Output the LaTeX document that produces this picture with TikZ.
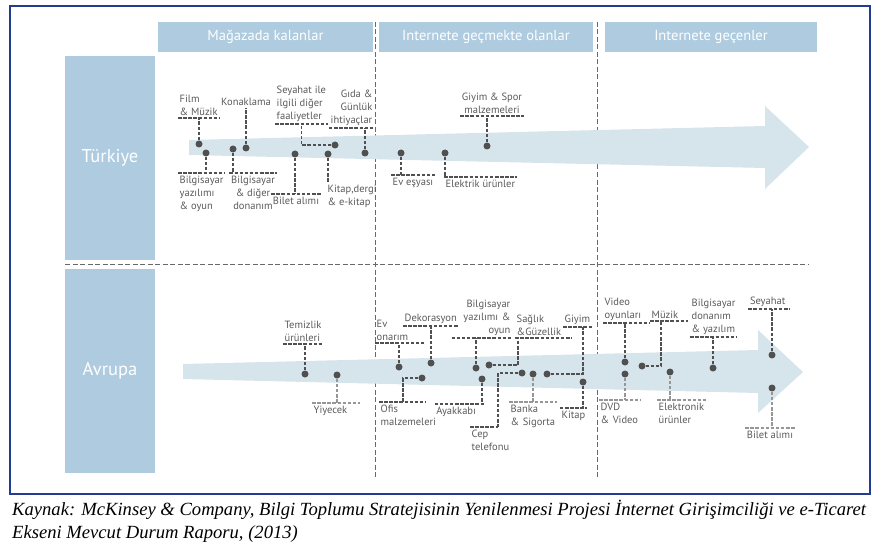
\documentclass[tikz,border=0pt]{standalone}
\usepackage{fontspec}
\setsansfont{PT Sans}
\newfontfamily\capfont{Liberation Serif}
\usepackage{tikz}
\usetikzlibrary{positioning}
\definecolor{hdrblue}{RGB}{174,203,224}
\definecolor{bandblue}{RGB}{214,228,236}
\definecolor{dotgray}{RGB}{80,80,80}
\definecolor{lblgray}{RGB}{90,90,90}
\definecolor{leadgray}{RGB}{150,150,150}
\definecolor{sepgray}{RGB}{105,105,105}
\definecolor{frameblue}{RGB}{35,60,145}
\tikzset{
  hdrbox/.style={fill=hdrblue, minimum height=30pt, minimum width=214pt, inner sep=0pt, text=white, font=\sffamily\fontsize{14.5}{16}\selectfont},
  regionbox/.style={fill=hdrblue, minimum width=90pt, minimum height=204pt, inner sep=0pt, text=white, font=\sffamily\fontsize{18.5}{20}\selectfont},
  bandfill/.style={fill=bandblue},
  itemdot/.style={circle, fill=dotgray, minimum size=7pt, inner sep=0pt},
  itemtag/.style={font=\sffamily\fontsize{10.5}{13}\selectfont, text=lblgray, inner xsep=1.5pt, inner ysep=2.6pt, align=left},
  leader/.style={draw=dotgray, line width=1.1pt, dash pattern=on 3.5pt off 1.6pt},
  leaderlight/.style={leader, draw=leadgray},
  divider/.style={draw=sepgray, line width=0.9pt, dash pattern=on 5pt off 2.5pt}
}

\begin{document}
\begin{tikzpicture}[x=1pt,y=-1pt]
  \useasboundingbox (0,0) rectangle (882,556);
  \draw[frameblue, line width=2pt] (10,6) rectangle (870,494);

  % column heads and rows
  \node[hdrbox, minimum width=215pt] (store) at (265.5,37) {Mağazada kalanlar};
  \node[hdrbox] (moving) at (486,37) {Internete geçmekte olanlar};
  \node[hdrbox, minimum width=212pt] (online) at (711,37) {Internete geçenler};
  \node[regionbox] (turkey) at (110,158) {Türkiye};
  \node[regionbox] (europe) at (110,371) {Avrupa};

  \draw[divider] (375,22) -- (375,477);
  \draw[divider] (597,22) -- (597,477);
  \draw[divider] (65,264) -- (809,264);

  \fill[bandfill] (189,140) -- (765,126) -- (765,106) -- (809,147) -- (765,189) -- (765,168) -- (189,155) -- cycle;
  \fill[bandfill] (183,364) -- (758,350) -- (758,330) -- (803,372) -- (758,413) -- (758,393) -- (183,379) -- cycle;

  % Turkiye
  \node[itemdot] (tFilmD) at (199,144) {};
  \node[itemtag, anchor=south west] (tFilmL) at (178,118) {Film\\\& Müzik};
  \draw[leader] (tFilmL.south west) -- (tFilmL.south east);
  \draw[leader] (tFilmD) -- (tFilmD |- tFilmL.south);

  \node[itemdot] (tBilYazD) at (206,153) {};
  \node[itemtag, anchor=north west] (tBilYazL) at (178,173) {Bilgisayar\\yazılımı\\\& oyun};
  \draw[leader] (tBilYazL.north west) -- (tBilYazL.north east);
  \draw[leader] (tBilYazD) -- (tBilYazD |- tBilYazL.north);

  \node[itemdot] (tKonakD) at (246,148) {};
  \node[itemtag, anchor=south] (tKonakL) at (246,108) {Konaklama};
  \draw[leader] (tKonakD) -- (tKonakD |- tKonakL.south);

  \node[itemdot] (tBilDonD) at (233,149) {};
  \node[itemtag, anchor=north, align=center] (tBilDonL) at (253,173) {Bilgisayar\\\& diğer\\donanım};
  \draw[leader] (tBilDonL.north west) -- (tBilDonL.north east);
  \draw[leader] (tBilDonD) -- (tBilDonD |- tBilDonL.north);

  \node[itemdot] (tSeyahatD) at (335,145) {};
  \node[itemtag, anchor=south west] (tSeyahatL) at (275,124) {Seyahat ile\\ilgili diğer\\faaliyetler};
  \draw[leader] (tSeyahatL.south west) -- (tSeyahatL.south east);
  \draw[leader] (tSeyahatD) -| (tSeyahatL.south);

  \node[itemdot] (tGidaD) at (365,153) {};
  \node[itemtag, anchor=south east, align=right] (tGidaL) at (374,128) {Gıda \&\\Günlük\\ihtiyaçlar};
  \draw[leader] (tGidaL.south west) -- (tGidaL.south east);
  \draw[leader] (tGidaD) -- (tGidaD |- tGidaL.south);

  \node[itemdot] (tBiletD) at (295,154) {};
  \node[itemtag, anchor=north] (tBiletL) at (296,194) {Bilet alımı};
  \draw[leader] (tBiletL.north west) -- (tBiletL.north east);
  \draw[leader] (tBiletD) -- (tBiletD |- tBiletL.north);

  \node[itemdot] (tKitapD) at (328,154) {};
  \node[itemtag, anchor=north west] (tKitapL) at (326,182) {Kitap,dergi\\\& e-kitap};
  \draw[leader] (tKitapD) -- (tKitapD |- tKitapL.north);

  \node[itemdot] (tGiyimD) at (487,146) {};
  \node[itemtag, anchor=south, align=center] (tGiyimL) at (492,116) {Giyim \& Spor\\malzemeleri};
  \draw[leader] (tGiyimL.south west) -- (tGiyimL.south east);
  \draw[leader] (tGiyimD) -- (tGiyimD |- tGiyimL.south);

  \node[itemdot] (tEvD) at (401,153) {};
  \node[itemtag, anchor=north west] (tEvL) at (391,175) {Ev eşyası};
  \draw[leader] (tEvL.north west) -- (tEvL.north east);
  \draw[leader] (tEvD) -- (tEvD |- tEvL.north);

  \node[itemdot] (tElekD) at (445,153) {};
  \node[itemtag, anchor=north west] (tElekL) at (444,177) {Elektrik ürünler};
  \draw[leader] (tElekL.north west) -- (tElekL.north east);
  \draw[leader] (tElekD) -- (tElekD |- tElekL.north);

  % Avrupa
  \node[itemdot] (aTemizD) at (305,374) {};
  \node[itemtag, anchor=south west] (aTemizL) at (283,344) {Temizlik\\ürünleri};
  \draw[leader] (aTemizL.south west) -- (aTemizL.south east);
  \draw[leader] (aTemizD) -- (aTemizD |- aTemizL.south);

  \node[itemdot] (aYiyecekD) at (337,375) {};
  \node[itemtag, anchor=north west, text width=45pt] (aYiyecekL) at (312,403) {Yiyecek};
  \draw[leaderlight] (aYiyecekL.north west) -- (aYiyecekL.north east);
  \draw[leaderlight] (aYiyecekD) -- (aYiyecekD |- aYiyecekL.north);

  \node[itemdot] (aEvD) at (399,367) {};
  \node[itemtag, anchor=south west, text width=46pt] (aEvL) at (375,343) {Ev\\onarım};
  \draw[leader] (aEvL.south west) -- (aEvL.south east);
  \draw[leader] (aEvD) -- (aEvD |- aEvL.south);

  \node[itemdot] (aDekorD) at (431,363) {};
  \node[itemtag, anchor=south west] (aDekorL) at (403,326) {Dekorasyon};
  \draw[leader] (aDekorL.south west) -- (aDekorL.south east);
  \draw[leader] (aDekorD) -- (aDekorD |- aDekorL.south);

  \node[itemdot] (aBilYazD) at (476,368) {};
  \node[itemtag, anchor=south east, text width=57pt, align=right] (aBilYazL) at (512,338) {Bilgisayar\\yazılımı \&\\oyun};
  \draw[leader] (aBilYazL.south west) -- (aBilYazL.south east);
  \draw[leader] (aBilYazD) -- (aBilYazD |- aBilYazL.south);

  \node[itemdot] (aSaglikD) at (489,365) {};
  \node[itemtag, anchor=south west, text width=54pt] (aSaglikL) at (515,338) {Sağlık\\\&Güzellik};
  \draw[leader] (aSaglikL.south west) -- (aSaglikL.south east);
  \draw[leader] (aSaglikD) -| ([xshift=3pt]aSaglikL.south west);

  \node[itemdot] (aGiyimD) at (547,374) {};
  \node[itemtag, anchor=south west] (aGiyimL) at (563,327) {Giyim};
  \draw[leader] (aGiyimL.south west) -- (aGiyimL.south east);
  \draw[leader] (aGiyimD) -| ([xshift=20pt]aGiyimL.south west);

  \node[itemdot] (aKitapD) at (583,382) {};
  \node[itemtag, anchor=north east] (aKitapL) at (587,408) {Kitap};
  \draw[leader] (aKitapL.north west) -- (aKitapL.north east);
  \draw[leader] (aKitapD) -- (aKitapD |- aKitapL.north);

  \node[itemdot] (aCepD) at (522,373) {};
  \node[itemtag, anchor=north west] (aCepL) at (470,427) {Cep\\telefonu};
  \draw[leader] (aCepL.north west) -- ([xshift=28pt]aCepL.north west);
  \draw[leader] (aCepD) -| ([xshift=28pt]aCepL.north west);

  \node[itemdot] (aBankaD) at (533,374) {};
  \node[itemtag, anchor=north west, text width=45pt] (aBankaL) at (509,402) {Banka\\\& Sigorta};
  \draw[leaderlight] (aBankaL.north west) -- (aBankaL.north east);
  \draw[leaderlight] (aBankaD) -- (aBankaD |- aBankaL.north);

  \node[itemdot] (aOfisD) at (422,378) {};
  \node[itemtag, anchor=north west, text width=43pt] (aOfisL) at (379,402) {Ofis\\malzemeleri};
  \draw[leader] (aOfisL.north west) -- (aOfisL.north east);
  \draw[leader] (aOfisD) -| ([xshift=24pt]aOfisL.north west);

  \node[itemdot] (aAyakD) at (482,379) {};
  \node[itemtag, anchor=north east, text width=46pt] (aAyakL) at (484,404) {Ayakkabı};
  \draw[leader] (aAyakL.north west) -- (aAyakL.north east);
  \draw[leader] (aAyakD) -- (aAyakD |- aAyakL.north);

  \node[itemdot] (aVideoD) at (625,362) {};
  \node[itemtag, anchor=south west, text width=44pt] (aVideoL) at (603,323) {Video\\oyunları};
  \draw[leader] (aVideoL.south west) -- (aVideoL.south east);
  \draw[leader] (aVideoD) -- (aVideoD |- aVideoL.south);

  \node[itemdot] (aDvdD) at (625,374) {};
  \node[itemtag, anchor=north west, text width=38pt] (aDvdL) at (599,400) {DVD\\\& Video};
  \draw[leaderlight] (aDvdL.north west) -- (aDvdL.north east);
  \draw[leaderlight] (aDvdD) -- (aDvdD |- aDvdL.north);

  \node[itemdot] (aMuzikD) at (642,366) {};
  \node[itemtag, anchor=south west, text width=35pt] (aMuzikL) at (650,321) {Müzik};
  \draw[leader] (aMuzikL.south west) -- (aMuzikL.south east);
  \draw[leader] (aMuzikD) -| ([xshift=11pt]aMuzikL.south west);

  \node[itemdot] (aElekD) at (670,372) {};
  \node[itemtag, anchor=north west] (aElekL) at (657,400) {Elektronik\\ürünler};
  \draw[leaderlight] (aElekL.north west) -- (aElekL.north east);
  \draw[leaderlight] (aElekD) -- (aElekD |- aElekL.north);

  \node[itemdot] (aBilDonD) at (713,368) {};
  \node[itemtag, anchor=south west] (aBilDonL) at (690,337) {Bilgisayar\\donanım\\\& yazılım};
  \draw[leader] (aBilDonL.south west) -- (aBilDonL.south east);
  \draw[leader] (aBilDonD) -- (aBilDonD |- aBilDonL.south);

  \node[itemdot] (aSeyahatD) at (772,355) {};
  \node[itemtag, anchor=south, text width=38pt] (aSeyahatL) at (769,309) {Seyahat};
  \draw[leader] (aSeyahatL.south west) -- (aSeyahatL.south east);
  \draw[leader] (aSeyahatD) -- (aSeyahatD |- aSeyahatL.south);

  \node[itemdot] (aBiletD) at (772,388) {};
  \node[itemtag, anchor=north] (aBiletL) at (770,428) {Bilet alımı};
  \draw[leaderlight] (aBiletL.north west) -- (aBiletL.north east);
  \draw[leaderlight] (aBiletD) -- (aBiletD |- aBiletL.north);

  % source line
  \node[anchor=north west, inner sep=0pt, align=left, font=\capfont\itshape\fontsize{18.6}{23}\selectfont] (source) at (12,500)
    {Kaynak: McKinsey \& Company, Bilgi Toplumu Stratejisinin Yenilenmesi Projesi İnternet Girişimciliği ve e-Ticaret\\Ekseni Mevcut Durum Raporu, (2013)};
\end{tikzpicture}
\end{document}
